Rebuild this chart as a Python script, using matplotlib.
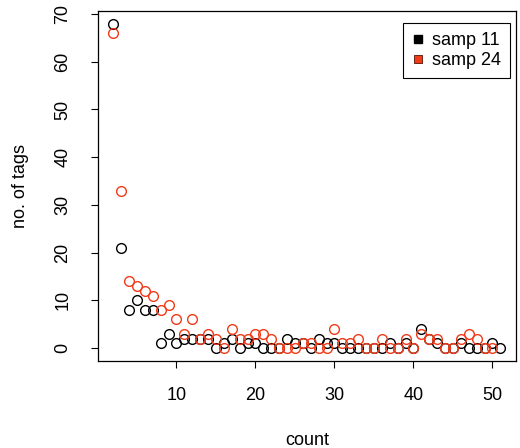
import matplotlib
matplotlib.use('Agg')
import matplotlib.pyplot as plt
from matplotlib.lines import Line2D

plt.rcParams['font.family'] = ['Liberation Sans', 'DejaVu Sans']

# data
count_11 = list(range(2, 52))
samp_11 = [68, 21, 8, 10, 8, 8, 1, 3, 1, 2,
           2, 2, 2, 0, 1, 2, 0, 1, 1, 0,
           0, 0, 2, 1, 1, 0, 2, 1, 1, 0,
           0, 0, 0, 0, 0, 1, 0, 1, 0, 4,
           2, 1, 0, 0, 1, 0, 0, 0, 1, 0]
count_24 = list(range(2, 51))
samp_24 = [66, 33, 14, 13, 12, 11, 8, 9, 6, 3,
           6, 2, 3, 2, 0, 4, 2, 2, 3, 3,
           2, 0, 0, 0, 1, 1, 0, 0, 4, 1,
           1, 2, 0, 0, 2, 0, 0, 2, 0, 3,
           2, 2, 0, 0, 2, 3, 2, 0, 0]
series_names = ['samp 11', 'samp 24']
red = '#F23A18'

fig = plt.figure(figsize=(5.2, 4.48), dpi=100)
ax = fig.add_axes([0.188, 0.194, 0.804, 0.7824])

ax.plot(count_11, samp_11, 'o', mfc='none', mec='black', ms=7, mew=1)
ax.plot(count_24, samp_24, 'o', mfc='none', mec=red, ms=7, mew=1)

ax.set_xlim(0.04, 52.96)
ax.set_ylim(-2.72, 70.72)
ax.set_xticks([10, 20, 30, 40, 50])
ax.set_yticks(range(0, 71, 10))
ax.tick_params(direction='out', length=5, width=0.8, labelsize=13, pad=14)
plt.setp(ax.get_yticklabels(), rotation=90, va='center')
for s in ax.spines.values():
    s.set_linewidth(0.9)

ax.set_xlabel('count', fontsize=13, labelpad=20)
ax.set_ylabel('no. of tags', fontsize=13, labelpad=18)

handles = [Line2D([], [], ls='none', marker='s', ms=6, mfc='black', mec='black'),
           Line2D([], [], ls='none', marker='s', ms=6, mfc=red, mec='#551100', mew=0.6)]
leg = ax.legend(handles, series_names, loc='upper right', bbox_to_anchor=(0.987, 0.9635),
                borderaxespad=0, fancybox=False, edgecolor='black', framealpha=1,
                fontsize=13, handlelength=0.6, handletextpad=0.5, labelspacing=0.15,
                borderpad=0.5)
leg.get_frame().set_linewidth(0.8)

fig.savefig('out.png', dpi=100)
